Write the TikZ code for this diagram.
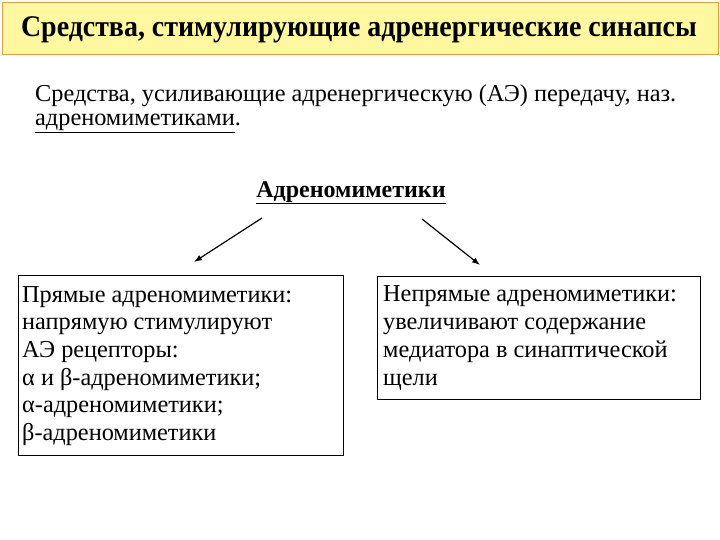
\documentclass[tikz,border=0pt]{standalone}
\usepackage{fontspec}
\setmainfont{Liberation Serif}
\usetikzlibrary{arrows.meta}

\definecolor{barfill}{RGB}{255,248,160}
\definecolor{barline}{RGB}{225,160,70}

\begin{document}
\begin{tikzpicture}[x=1pt,y=-1pt,
  body/.style={font=\fontsize{24.3}{27.7}\selectfont, inner sep=0pt, align=left},
  framebox/.style={draw=black, thick},
  pointer/.style={line width=1.2pt, -{Latex[length=8pt,width=6pt]}}]
  \def \W {720}
  \def \H {540}

  \useasboundingbox[fill=white] (0,0) rectangle (\W,\H);

  % title bar
  \draw[barline, fill=barfill, thick] (2,2) rectangle (718,54);
  \node[anchor=base, font=\fontsize{30}{34}\selectfont\bfseries, xscale=0.93, inner sep=0pt]
    (title) at (359,37) {Средства, стимулирующие адренергические синапсы};

  % definition (anchored at the baseline of its last line)
  \node[body, anchor=base west, font=\fontsize{24.3}{24}\selectfont] (intro) at (35,126)
    {Средства, усиливающие адренергическую (АЭ) передачу, наз.\\
     \underline{адреномиметиками}.};

  % head word
  \node[anchor=base, font=\fontsize{24}{26}\selectfont\bfseries, inner sep=0pt]
    (head) at (351,197) {\underline{Адреномиметики}};

  % arrows
  \coordinate (lstart) at (262,218);
  \coordinate (lend) at (194,262);
  \coordinate (rstart) at (422,219);
  \coordinate (rend) at (480,265);
  \draw[pointer] (lstart) -- (lend);
  \draw[pointer] (rstart) -- (rend);

  % boxes
  \draw[framebox] (18,275) rectangle (343,455);
  \draw[framebox] (377,276) rectangle (700,399);

  \node[body, anchor=base west] (direct) at (22,440.5)
    {Прямые адреномиметики:\\
     напрямую стимулируют\\
     АЭ рецепторы:\\
     α и β-адреномиметики;\\
     α-адреномиметики;\\
     β-адреномиметики};
  \node[body, anchor=base west] (indirect) at (383,385)
    {Непрямые адреномиметики:\\
     увеличивают содержание\\
     медиатора в синаптической\\
     щели};
\end{tikzpicture}
\end{document}
